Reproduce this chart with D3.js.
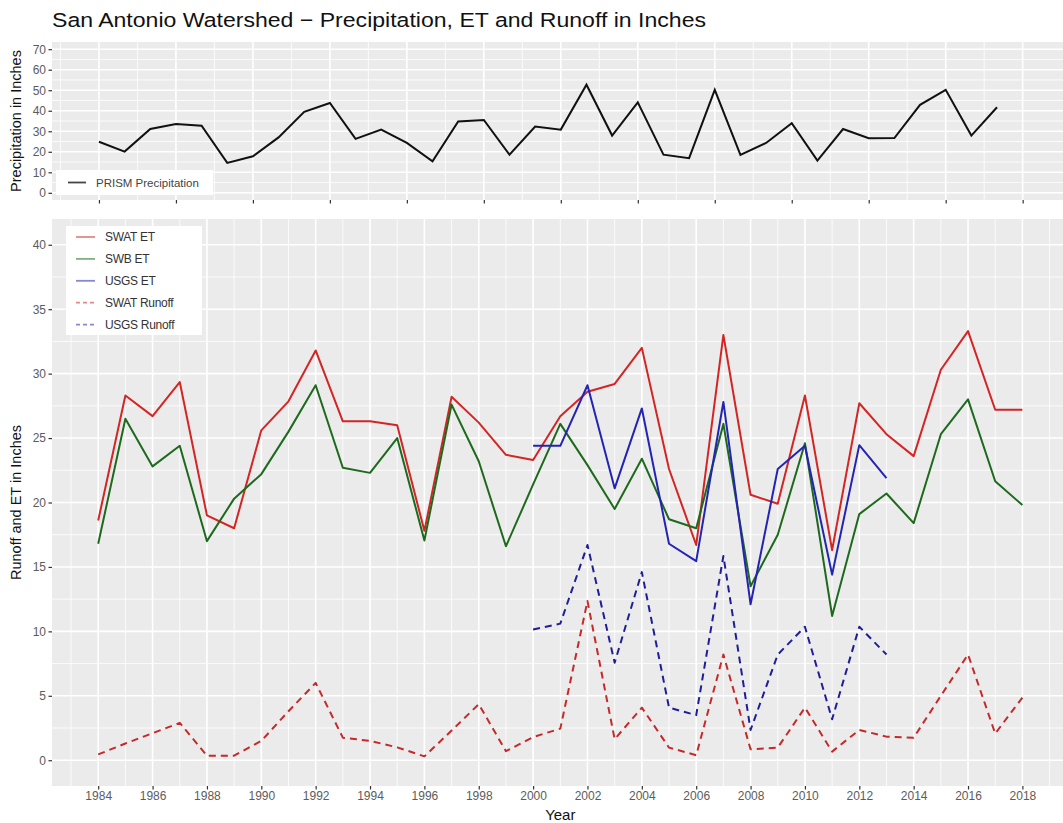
<!DOCTYPE html>
<html><head><meta charset="utf-8">
<script src="https://cdn.jsdelivr.net/npm/d3@7"></script>
<style>
html,body{margin:0;padding:0;background:#fff;}
svg{display:block;font-family:"Liberation Sans",Arial,sans-serif;}
</style></head>
<body><svg id="chart" width="1063" height="823"></svg>
<script>
// ---------- DATA ----------
const etYears = [1984,1985,1986,1987,1988,1989,1990,1991,1992,1993,1994,1995,1996,1997,1998,1999,2000,2001,2002,2003,2004,2005,2006,2007,2008,2009,2010,2011,2012,2013,2014,2015,2016,2017,2018];
const swatET = [18.6,28.3,26.7,29.35,19.0,18.0,25.6,27.85,31.8,26.3, 26.3,26.0,17.8,28.2,26.2,23.7,23.3,26.7,28.6,29.2, 32.0,22.6,16.7,33.0,20.6,19.9,28.3,16.3,27.7,25.3, 23.6,30.3,33.3,27.2,27.2];
const swbET = [16.8,26.5,22.8,24.4,17.0,20.3,22.2,25.5,29.1,22.7, 22.3,25.0,17.05,27.6,23.2,16.6,21.4,26.1,22.9,19.5, 23.4,18.7,18.0,26.1,13.5,17.5,24.6,11.2,19.1,20.7, 18.4,25.3,28.0,21.65,19.8];
const swatRunoff = [0.45,1.3,2.1,2.9,0.35,0.35,1.5,3.8,6.0,1.75, 1.5,1.0,0.3,2.3,4.35,0.7,1.8,2.45,12.35,1.63, 4.08,0.98,0.39,8.2,0.85,0.98,4.08,0.67,2.35,1.83, 1.75,5.0,8.2,2.07,4.86];
const usgsYears = [2000,2001,2002,2003,2004,2005,2006,2007,2008,2009,2010,2011,2012,2013];
const usgsET = [24.4,24.4,29.1,21.1,27.3,16.8,15.45,27.8,12.1,22.6,24.4,14.4,24.45,21.9];
const usgsRunoff = [10.15,10.6,16.7,7.57,14.6,4.08,3.5,15.85,2.35,8.2,10.36,3.18,10.36,8.2];
const precipYears = [1984,1985,1986,1987,1988,1989,1990,1991,1992,1993,1994,1995,1996,1997,1998,1999,2000,2001,2002,2003,2004,2005,2006,2007,2008,2009,2010,2011,2012,2013,2014,2015,2016,2017,2018,2019];
const precip = [24.9,20.1,31.1,33.5,32.7,14.6,17.8,27.0,39.5,43.8, 26.3,30.8,24.3,15.4,34.8,35.5,18.6,32.3,30.8,52.7, 27.9,44.1,18.6,16.9,50.2,18.5,24.3,33.9,15.7,31.1, 26.6,26.7,42.9,50.2,27.9,41.7];
const xTickYears = [1984,1986,1988,1990,1992,1994,1996,1998,2000,2002,2004,2006,2008,2010,2012,2014,2016,2018];
const precipXTicks = [1984,1987,1990,1993,1996,1999,2002,2005,2008,2011,2014,2017,2020];
const etYTicks = [0,5,10,15,20,25,30,35,40];
const precipYTicks = [0,10,20,30,40,50,60,70];
const title = "San Antonio Watershed \u2212 Precipitation, ET and Runoff in Inches";
const seriesNames = ["SWAT ET","SWB ET","USGS ET","SWAT Runoff","USGS Runoff"];

// ---------- STYLE ----------
const colRed = "#d42525", colGreen = "#1d6a1d", colBlue = "#2424b4", colRedDash = "#c42a2a", colBlueDash = "#1e1e98";
const panelBg = "#ebebeb";
const tickText = "#5c5c5c";

const svg = d3.select("#chart");
const L = 52, R = 1068.6;

// Title
svg.append("text").attr("x", 52).attr("y", 27).attr("font-size", 20.5)
  .attr("textLength", 654).attr("lengthAdjust", "spacingAndGlyphs")
  .attr("fill", "#111").text(title);

function drawPanel(g, x, y, xMajor, xMinor, yMajor, yMinor, top, bottom) {
  g.append("rect").attr("x", L).attr("y", top).attr("width", R - L).attr("height", bottom - top).attr("fill", panelBg);
  yMinor.forEach(v => g.append("line").attr("x1", L).attr("x2", R).attr("y1", y(v)).attr("y2", y(v)).attr("stroke", "#fff").attr("stroke-width", 0.8));
  xMinor.forEach(v => g.append("line").attr("y1", top).attr("y2", bottom).attr("x1", x(v)).attr("x2", x(v)).attr("stroke", "#fff").attr("stroke-width", 0.8));
  yMajor.forEach(v => g.append("line").attr("x1", L).attr("x2", R).attr("y1", y(v)).attr("y2", y(v)).attr("stroke", "#fff").attr("stroke-width", 1.6));
  xMajor.forEach(v => g.append("line").attr("y1", top).attr("y2", bottom).attr("x1", x(v)).attr("x2", x(v)).attr("stroke", "#fff").attr("stroke-width", 1.6));
}

// ---------- TOP PANEL ----------
const tTop = 42, tBot = 200;
const xP = d3.scaleLinear().domain([1982.17, 2021.79]).range([L, R]);
const yP = d3.scaleLinear().domain([-3.5, 73.5]).range([tBot, tTop]);
const gTop = svg.append("g");
const pxMinor = precipXTicks.slice(0, -1).map((v, i) => (v + precipXTicks[i + 1]) / 2);
pxMinor.unshift(precipXTicks[0] - 1.5);
const pyMinor = precipYTicks.slice(0, -1).map((v, i) => v + 5);
drawPanel(gTop, xP, yP, precipXTicks, pxMinor.filter(v => xP(v) >= L), precipYTicks, pyMinor, tTop, tBot);

svg.append("clipPath").attr("id", "clipTop").append("rect").attr("x", L).attr("y", tTop).attr("width", R - L).attr("height", tBot - tTop);
gTop.append("path").datum(precip.map((v, i) => [precipYears[i], v]))
  .attr("clip-path", "url(#clipTop)")
  .attr("d", d3.line().x(d => xP(d[0])).y(d => yP(d[1])))
  .attr("fill", "none").attr("stroke", "#111").attr("stroke-width", 2);

svg.append("g").attr("transform", `translate(${L},0)`)
  .call(d3.axisLeft(yP).tickValues(precipYTicks).tickSize(3.5).tickPadding(2.5));
svg.append("g").attr("transform", `translate(0,${tBot})`)
  .call(d3.axisBottom(xP).tickValues(precipXTicks).tickSize(3.5).tickFormat(""));

// Top legend
const lgT = svg.append("g");
lgT.append("rect").attr("x", 56).attr("y", 170).attr("width", 157).attr("height", 25).attr("fill", "#fff");
lgT.append("line").attr("x1", 68).attr("x2", 86).attr("y1", 182.5).attr("y2", 182.5).attr("stroke", "#444").attr("stroke-width", 1.8);
lgT.append("text").attr("x", 96).attr("y", 186.5).attr("font-size", 11.5).attr("fill", "#444").text("PRISM Precipitation");

// ---------- BOTTOM PANEL ----------
const bTop = 219, bBot = 786;
const x = d3.scaleLinear().domain([1982.3, 2019.7]).range([L, R]);
const y = d3.scaleLinear().domain([-2, 42]).range([bBot, bTop]);
const gB = svg.append("g");
const xMinorB = xTickYears.map(v => v - 1).concat([xTickYears[xTickYears.length - 1] + 1]);
const yMinorB = etYTicks.slice(0, -1).map(v => v + 2.5);
drawPanel(gB, x, y, xTickYears, xMinorB.filter(v => x(v) >= L), etYTicks, yMinorB, bTop, bBot);

svg.append("clipPath").attr("id", "clipB").append("rect").attr("x", L).attr("y", bTop).attr("width", R - L).attr("height", bBot - bTop);
const line = d3.line().x(d => x(d[0])).y(d => y(d[1]));
const gLines = gB.append("g").attr("clip-path", "url(#clipB)");
function addSeries(years, vals, color, dash) {
  gLines.append("path").datum(vals.map((v, i) => [years[i], v]))
    .attr("d", line).attr("fill", "none").attr("stroke", color).attr("stroke-width", 2)
    .attr("stroke-dasharray", dash ? "7,5" : null).attr("stroke-linejoin", "round");
}
addSeries(etYears, swatRunoff, colRedDash, true);
addSeries(usgsYears, usgsRunoff, colBlueDash, true);
addSeries(etYears, swatET, colRed, false);
addSeries(etYears, swbET, colGreen, false);
addSeries(usgsYears, usgsET, colBlue, false);

svg.append("g").attr("transform", `translate(${L},0)`)
  .call(d3.axisLeft(y).tickValues(etYTicks).tickSize(3.5).tickPadding(2.5));
svg.append("g").attr("transform", `translate(0,${bBot})`)
  .call(d3.axisBottom(x).tickValues(xTickYears).tickSize(3.5).tickPadding(2).tickFormat(d3.format("d")));

svg.selectAll(".domain").remove();
svg.selectAll(".tick line").attr("stroke", "#333").attr("stroke-width", 1.2);
svg.selectAll(".tick text").attr("font-size", 12).attr("fill", tickText).attr("font-family", "Liberation Sans, Arial, sans-serif");

// Bottom legend
const lgB = svg.append("g");
lgB.append("rect").attr("x", 66).attr("y", 226).attr("width", 136).attr("height", 109).attr("fill", "#fff");
const legCols = [colRed, colGreen, colBlue, colRed, colBlue];
seriesNames.forEach((n, i) => {
  const yy = 237 + i * 21.9;
  lgB.append("line").attr("x1", 76).attr("x2", 95).attr("y1", yy).attr("y2", yy)
    .attr("stroke", legCols[i]).attr("stroke-opacity", 0.55).attr("stroke-width", 1.8)
    .attr("stroke-dasharray", i >= 3 ? "4,3" : null);
  lgB.append("text").attr("x", 105).attr("y", yy + 4.2).attr("font-size", 12).attr("fill", "#333").attr("letter-spacing", -0.3).text(n);
});

// Axis titles
svg.append("text").attr("transform", `translate(21,${(tTop + tBot) / 2}) rotate(-90)`).attr("text-anchor", "middle")
  .attr("font-size", 14.5).attr("fill", "#111").text("Precipitation in Inches");
svg.append("text").attr("transform", `translate(21,${(bTop + bBot) / 2}) rotate(-90)`).attr("text-anchor", "middle")
  .attr("font-size", 14.5).attr("fill", "#111").text("Runoff and ET in Inches");
svg.append("text").attr("x", (L + R) / 2).attr("y", 820).attr("text-anchor", "middle")
  .attr("font-size", 15).attr("fill", "#111").text("Year");
</script></body></html>
